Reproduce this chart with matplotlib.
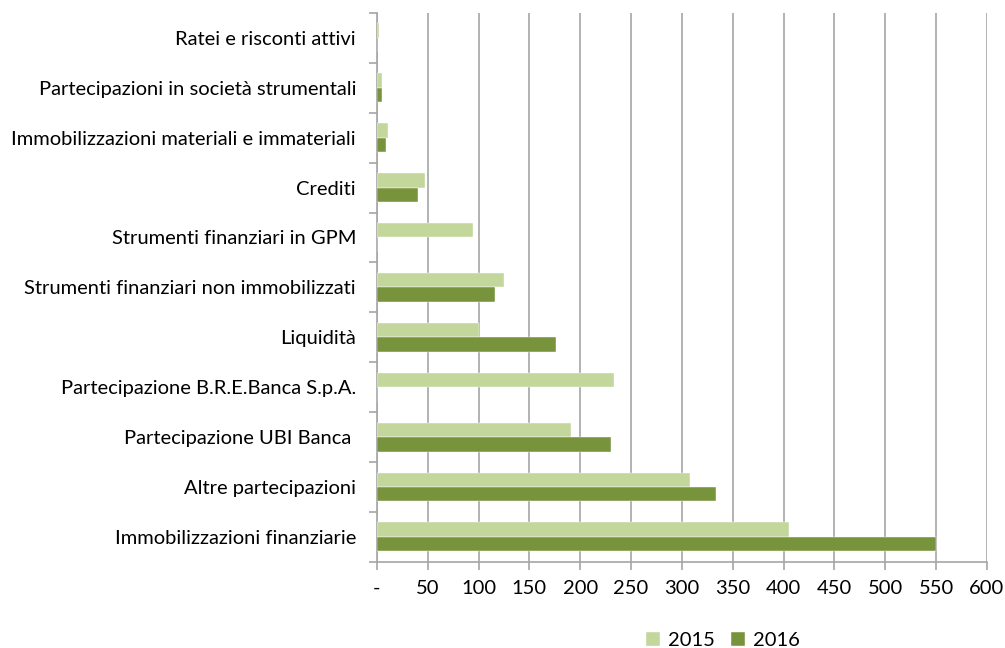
import matplotlib
matplotlib.use('Agg')

import numpy as np
import matplotlib.pyplot as plt

# voci di bilancio, dal basso verso l'alto
categorie = [
    'Immobilizzazioni finanziarie',
    'Altre partecipazioni',
    'Partecipazione UBI Banca ',
    'Partecipazione B.R.E.Banca S.p.A.',
    'Liquidità',
    'Strumenti finanziari non immobilizzati',
    'Strumenti finanziari in GPM',
    'Crediti',
    'Immobilizzazioni materiali e immateriali',
    'Partecipazioni in società strumentali',
    'Ratei e risconti attivi',
]
valori_2015 = [405, 308, 191, 233, 100, 125, 95, 47, 11, 5.5, 2]
valori_2016 = [550, 334, 230, 0, 176, 116, 0, 40, 9, 5.5, 0]

x_ticks = list(range(0, 601, 50))
x_labels = ['-'] + [str(v) for v in x_ticks[1:]]

col_2015 = '#C3D69B'
col_2016 = '#77933C'
grigio = '#A6A6A6'
fs = 14.5

plt.rcParams['font.family'] = ['Lato', 'DejaVu Sans']

fig = plt.figure(figsize=(10.05, 6.48), dpi=100)
ax = fig.add_axes([0.375, 0.133, 0.607, 0.847])

y = np.arange(len(categorie))
h = 0.29
ax.barh(y + h / 2, valori_2015, height=h, color=col_2015, edgecolor='white', linewidth=0.3, label='2015', zorder=3)
ax.barh(y - h / 2, valori_2016, height=h, color=col_2016, edgecolor='white', linewidth=0.3, label='2016', zorder=3)

ax.set_xlim(0, 600)
ax.set_ylim(-0.5, len(categorie) - 0.5)
ax.set_xticks(x_ticks)
ax.set_xticklabels(x_labels, fontsize=fs)
ax.xaxis.grid(True, color=grigio, linewidth=1.2, zorder=0)

# etichette al centro, tacche sui confini delle categorie
ax.set_yticks(y)
ax.set_yticklabels(categorie, fontsize=fs)
ax.set_yticks(np.arange(-0.5, len(categorie), 1), minor=True)
ax.tick_params(axis='y', which='major', length=0, pad=15)
ax.tick_params(axis='y', which='minor', length=6, color=grigio, width=1.2)
ax.tick_params(axis='x', length=6, color=grigio, width=1.2, pad=7)

for s in ['top', 'right']:
    ax.spines[s].set_visible(False)
for s in ['left', 'bottom']:
    ax.spines[s].set_color(grigio)
    ax.spines[s].set_linewidth(1.2)

ax.legend(loc='center', bbox_to_anchor=(0.567, -0.143), ncol=2, frameon=False,
          fontsize=fs, handlelength=0.7, handleheight=0.7, handletextpad=0.4,
          columnspacing=0.8, borderpad=0)

fig.savefig('out.png', dpi=100)
